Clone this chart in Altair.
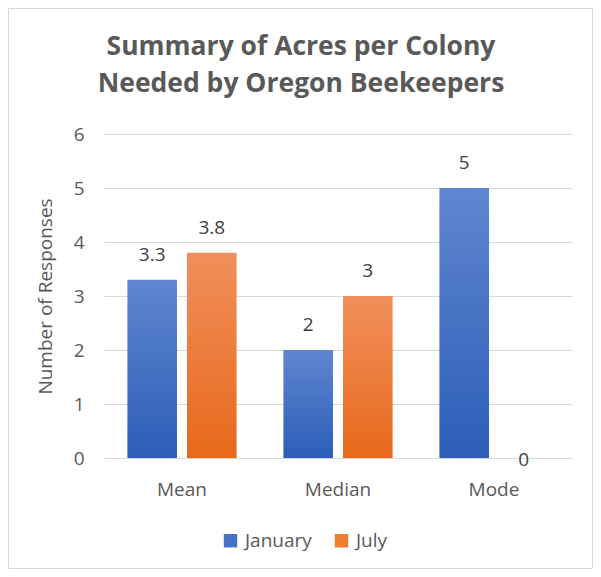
import altair as alt
import pandas as pd

categories = ["Mean", "Median", "Mode"]
series_names = ["January", "July"]
january = [3.3, 2, 5]
july = [3.8, 3, 0]
y_ticks = [0, 1, 2, 3, 4, 5, 6]

rows = []
for c, v in zip(categories, january):
    rows.append({"cat": c, "series": "January", "value": v})
for c, v in zip(categories, july):
    rows.append({"cat": c, "series": "July", "value": v})
df = pd.DataFrame(rows)

W, H = 468, 324
PL, PT, PR, PB = 96, 126, 21, 111
FONT = "Open Sans"
FS = 19
YTITLE = "Number of Responses"

blue_grad = alt.LinearGradient(gradient="linear", x1=0, y1=0, x2=0, y2=1,
                               stops=[alt.GradientStop(color="#5f86cf", offset=0),
                                      alt.GradientStop(color="#2c5db8", offset=1)])
orange_grad = alt.LinearGradient(gradient="linear", x1=0, y1=0, x2=0, y2=1,
                                 stops=[alt.GradientStop(color="#f18f5c", offset=0),
                                        alt.GradientStop(color="#e7691b", offset=1)])

x_enc = alt.X("cat:N", sort=categories, title=None,
              scale=alt.Scale(paddingInner=0.3, paddingOuter=0.15),
              axis=alt.Axis(labelAngle=0, ticks=False, domain=False, labelFontSize=FS,
                            labelColor="#595959", labelPadding=22, labelFont=FONT))
y_scale = alt.Scale(domain=[0, 6], nice=False)
y_axis = alt.Axis(values=y_ticks, format="d", ticks=False, domain=False, labelFontSize=FS,
                  labelColor="#595959", labelPadding=20, labelFont=FONT,
                  gridColor="#d9d9d9", gridWidth=1,
                  titleFontSize=FS, titleFontWeight="normal", titleColor="#595959",
                  titleFont=FONT, titlePadding=18)
y_enc = alt.Y("value:Q", title=YTITLE, scale=y_scale, axis=y_axis)
xo_enc = alt.XOffset("series:N", sort=series_names,
                     scale=alt.Scale(paddingInner=0.168, paddingOuter=0))

base = alt.Chart(df)

bars_jan = base.transform_filter(alt.datum.series == "January").mark_bar(
    color=blue_grad).encode(x=x_enc, y=y_enc, xOffset=xo_enc)
bars_jul = base.transform_filter(alt.datum.series == "July").mark_bar(
    color=orange_grad).encode(x=x_enc, y=y_enc, xOffset=xo_enc)

labels = base.transform_calculate(
    label_y="datum.value == 0 ? -0.5 : datum.value"
).mark_text(baseline="bottom", dy=-15, fontSize=FS, color="#404040", font=FONT).encode(
    x=x_enc, y=alt.Y("label_y:Q", title=YTITLE, scale=y_scale, axis=y_axis), xOffset=xo_enc,
    text=alt.Text("value:Q"))

legend_layer = base.mark_square(opacity=0).encode(
    x=x_enc, y=y_enc, xOffset=xo_enc,
    color=alt.Color("series:N", sort=series_names, title=None,
                    scale=alt.Scale(domain=series_names, range=["#4472c4", "#ed7d31"]),
                    legend=alt.Legend(orient="none", legendX=117, legendY=397,
                                      direction="horizontal", symbolType="square",
                                      symbolSize=180, symbolOpacity=1, symbolStrokeWidth=0,
                                      labelFontSize=FS, labelColor="#595959", labelFont=FONT,
                                      columnPadding=20, labelOffset=5)))

border = alt.Chart(pd.DataFrame({"a": [0]})).mark_rect(
    fill=None, stroke="#d9d9d9", strokeWidth=1).encode(
    x=alt.value(-PL + 0.5), x2=alt.value(W + PR - 0.5),
    y=alt.value(-PT + 0.5), y2=alt.value(H + PB - 0.5))

chart = alt.layer(border, bars_jan, bars_jul, labels, legend_layer).properties(
    width=W, height=H,
    autosize=alt.AutoSizeParams(type="none"),
    padding={"left": PL, "top": PT, "right": PR, "bottom": PB},
    title=alt.TitleParams(text=["Summary of Acres per Colony", "Needed by Oregon Beekeepers"],
                          fontSize=26.5, fontWeight="bold", color="#595959", font=FONT,
                          anchor="middle", frame="group", dx=-37, dy=121, offset=32,
                          lineHeight=37),
).configure_view(stroke=None)

chart.save("out.html", embed_options={"renderer": "svg", "actions": False})
